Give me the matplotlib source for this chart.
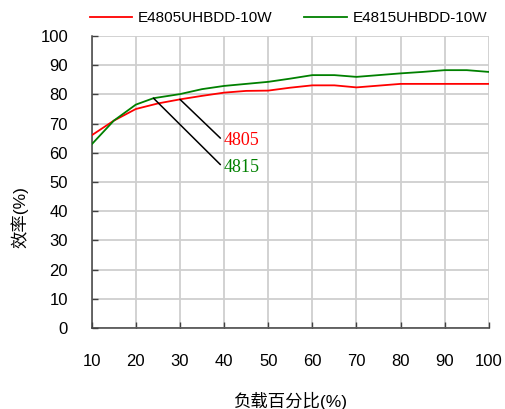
import numpy as np
import matplotlib.pyplot as plt

# 负载百分比 (%)
x_4805 = [10, 15, 20, 25, 30, 35, 40, 45, 50, 55, 60, 65, 70, 75, 80, 85, 90, 95, 100]
eff_4805 = [66.0, 71.0, 75.0, 76.9, 78.3, 79.5, 80.6, 81.2, 81.3, 82.3, 83.1, 83.1, 82.4, 83.0, 83.6, 83.6, 83.6, 83.6, 83.6]

x_4815 = [10, 15, 20, 24, 30, 35, 40, 45, 50, 55, 60, 65, 70, 75, 80, 85, 90, 95, 100]
eff_4815 = [62.9, 71.0, 76.5, 78.7, 80.1, 81.8, 82.9, 83.6, 84.3, 85.4, 86.6, 86.6, 86.0, 86.6, 87.2, 87.7, 88.3, 88.3, 87.7]

names = ['E4805UHBDD-10W', 'E4815UHBDD-10W']
tags = ['4805', '4815']
colors = ['#ff0000', '#008000']

xticks = list(range(10, 101, 10))
yticks = list(range(0, 101, 10))

fam = ['Liberation Sans', 'Noto Sans CJK SC', 'DejaVu Sans']
plt.rcParams['font.family'] = fam

fig = plt.figure(figsize=(5.05, 4.09), dpi=100)
ax = fig.add_axes([0.1816, 0.198, 0.7864, 0.714])

l1, = ax.plot(x_4805, eff_4805, color=colors[0], lw=1.3, zorder=3)
l2, = ax.plot(x_4815, eff_4815, color=colors[1], lw=1.3, zorder=3)

ax.set_xlim(10, 100)
ax.set_ylim(0, 100)
ax.set_xticks(xticks)
ax.set_yticks(yticks)
ax.grid(True, color='#cfcfcf', lw=1.3)
ax.set_axisbelow(True)

for s in ['top', 'right']:
    ax.spines[s].set_visible(False)
for s in ['left', 'bottom']:
    ax.spines[s].set_color('#404040')
    ax.spines[s].set_linewidth(1.1)

ax.tick_params(axis='both', direction='in', length=4, width=1, color='#404040',
               labelsize=12, colors='black')
ax.tick_params(axis='x', pad=19)
ax.tick_params(axis='y', pad=17)

ax.set_xlabel('负载百分比(%)', fontsize=12.5, family=fam, labelpad=16)
ax.set_ylabel('效率(%)', fontsize=12.5, family=fam)
ax.yaxis.set_label_coords(-0.16, 0.38)

# 标注
ax.annotate(tags[0], xy=(x_4805[4], eff_4805[4]), xytext=(39.8, 64.1),
            color=colors[0], fontsize=13, family='Liberation Serif', va='center', ha='left',
            arrowprops=dict(arrowstyle='-', color='black', lw=1.1, shrinkA=0, shrinkB=0,
                            relpos=(0, 0.5)))
ax.annotate(tags[1], xy=(x_4815[3], eff_4815[3]), xytext=(39.8, 55.0),
            color=colors[1], fontsize=13, family='Liberation Serif', va='center', ha='left',
            arrowprops=dict(arrowstyle='-', color='black', lw=1.1, shrinkA=0, shrinkB=0,
                            relpos=(0, 0.5)))

fig.legend([l1, l2], names, loc='center', bbox_to_anchor=(0.571, 0.955), ncol=2,
           frameon=False, fontsize=11, handlelength=2.8, handletextpad=0.35,
           columnspacing=2.1)

fig.savefig('out.png', dpi=100)
